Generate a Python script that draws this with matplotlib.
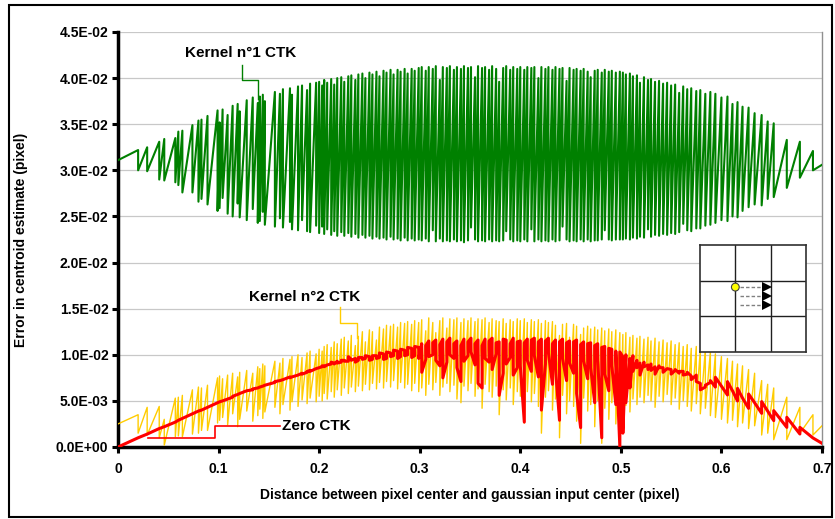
import numpy as np
import matplotlib
matplotlib.use("Agg")
import matplotlib.pyplot as plt
from matplotlib.ticker import FuncFormatter, MultipleLocator
from matplotlib.patches import Rectangle, Circle

plt.rcParams['font.family'] = ['Liberation Sans', 'DejaVu Sans']
plt.rcParams['font.weight'] = 'bold'

# ---------------- data ----------------
# distance (pixel) of each sample group; each group holds two successive samples
dist = [
    0.000,
    0.020, 0.029, 0.041, 0.046, 0.057, 0.060, 0.064, 0.074, 0.080, 0.083, 0.089, 0.099,
    0.101, 0.104, 0.109, 0.114, 0.119, 0.121, 0.128, 0.134, 0.139, 0.141, 0.144,
    0.146, 0.156, 0.161, 0.164, 0.171, 0.173, 0.179, 0.183, 0.188, 0.191, 0.197,
    0.200, 0.203, 0.205, 0.208, 0.212, 0.215, 0.218, 0.222, 0.225, 0.229,
    0.232, 0.236, 0.239, 0.243, 0.246, 0.250, 0.253, 0.257, 0.260, 0.264,
    0.267, 0.271, 0.274, 0.278, 0.281, 0.285, 0.288, 0.292, 0.295, 0.299,
    0.302, 0.306, 0.309, 0.313, 0.316, 0.320, 0.323, 0.327, 0.330, 0.334,
    0.337, 0.341, 0.344, 0.348, 0.351, 0.355, 0.358, 0.362, 0.365, 0.369,
    0.372, 0.376, 0.379, 0.383, 0.386, 0.390, 0.393, 0.397,
    0.400, 0.404, 0.407, 0.411, 0.414, 0.418, 0.421, 0.425, 0.428, 0.432,
    0.435, 0.439, 0.442, 0.446, 0.449, 0.453, 0.456, 0.460, 0.463, 0.467,
    0.470, 0.474, 0.477, 0.481, 0.484, 0.488, 0.491, 0.495, 0.499,
    0.502, 0.505, 0.509, 0.512, 0.516, 0.519, 0.523, 0.527, 0.530, 0.534, 0.538, 0.542,
    0.546, 0.550, 0.554, 0.558, 0.562, 0.566, 0.570, 0.575, 0.579, 0.584, 0.589, 0.594,
    0.600, 0.606, 0.611, 0.616, 0.621, 0.627, 0.633, 0.640, 0.646, 0.652, 0.665, 0.678, 0.691,
    0.700,
]

# Kernel n°1 CTK (units of 1E-03 pixel): first / second sample of each group
k1_high = [
    31.1,
    32.2, 32.5, 33.1, 33.4, 33.5, 34.2, 34.3, 34.9, 35.4, 35.5, 35.9, 36.5,
    35.2, 36.6, 36.0, 37.0, 37.2, 36.4, 37.6, 37.9, 37.3, 38.0, 38.2,
    37.5, 38.5, 38.3, 38.8, 38.9, 38.2, 39.1, 39.2, 38.7, 39.4, 39.5,
    39.6, 39.2, 39.8, 39.5, 39.9, 39.3, 40.0, 40.1, 39.6, 40.2,
    40.3, 39.8, 40.4, 40.5, 40.0, 40.6, 40.4, 40.7, 40.2, 40.8,
    40.6, 40.9, 40.4, 40.9, 40.7, 41.0, 40.5, 41.0, 40.8, 41.1,
    41.2, 40.8, 41.2, 41.0, 41.3, 39.8, 41.2, 41.1, 41.3, 40.9,
    41.2, 41.0, 41.3, 41.1, 41.2, 40.1, 41.3, 41.1, 41.2, 40.9,
    41.3, 41.0, 39.6, 41.1, 41.3, 40.9, 41.2, 41.0,
    41.2, 40.9, 41.2, 41.1, 41.2, 40.0, 41.2, 41.0, 41.2, 40.9,
    41.2, 41.0, 41.1, 39.7, 41.1, 40.9, 41.0, 40.8, 41.0, 40.7,
    40.1, 40.8, 40.9, 40.6, 40.9, 40.7, 40.8, 40.6, 40.7,
    40.6, 40.4, 40.5, 40.2, 40.3, 39.5, 40.1, 39.8, 39.9, 39.6, 39.7, 39.4,
    39.5, 39.2, 39.3, 38.4, 39.1, 38.8, 38.9, 38.6, 38.7, 38.3, 38.5, 38.3,
    37.9, 38.0, 37.2, 37.4, 36.9, 36.8, 36.2, 36.0, 35.3, 35.1, 33.3, 33.1, 32.1,
    30.6,
]
k1_low = [
    31.1,
    30.0, 29.9, 29.0, 28.9, 28.7, 28.4, 27.6, 27.6, 26.6, 26.9, 26.3, 25.6,
    25.9, 27.0, 25.3, 25.0, 26.4, 24.9, 24.6, 25.8, 24.3, 24.5, 25.5,
    24.1, 23.9, 24.8, 23.8, 24.4, 23.6, 23.5, 24.6, 23.4, 23.3, 24.0,
    23.2, 23.9, 23.1, 23.6, 23.0, 23.4, 22.9, 23.3, 22.9, 23.2,
    22.8, 23.1, 22.7, 23.0, 22.7, 22.9, 22.6, 22.8, 22.6, 22.7,
    22.5, 22.8, 22.5, 22.6, 22.4, 22.7, 22.4, 22.6, 22.4, 22.5,
    22.4, 22.6, 22.3, 23.5, 22.3, 22.6, 22.3, 22.4, 22.3, 22.5,
    22.3, 22.4, 22.2, 22.4, 23.8, 22.5, 22.3, 22.4, 22.3, 22.5,
    22.3, 22.4, 22.3, 22.4, 23.4, 22.5, 22.3, 22.4,
    22.3, 22.5, 22.3, 23.6, 22.3, 22.5, 22.3, 22.4, 22.3, 22.5,
    22.3, 22.4, 23.9, 22.5, 22.3, 22.4, 22.3, 22.5, 22.3, 22.5,
    22.3, 22.4, 22.4, 22.5, 23.5, 22.5, 22.4, 22.5, 22.5,
    22.5, 22.6, 22.5, 22.7, 22.6, 22.8, 22.7, 23.6, 22.8, 23.0, 22.9, 23.1,
    23.0, 23.2, 23.1, 23.3, 24.2, 23.5, 23.4, 23.7, 23.7, 24.0, 24.1, 24.3,
    24.6, 24.5, 25.0, 24.9, 25.6, 26.0, 26.3, 26.2, 26.9, 27.1, 28.1, 29.2, 30.0,
    30.6,
]

# Kernel n°2 CTK (units of 1E-03 pixel)
k2_high = [
    2.5,
    3.5, 4.3, 4.4, 3.0, 5.3, 5.4, 5.6, 6.2, 6.5, 6.4, 6.7, 7.5,
    7.7, 7.4, 7.8, 8.0, 7.6, 8.1, 8.3, 8.0, 8.7, 8.5, 9.0,
    8.8, 9.3, 9.1, 9.6, 9.5, 9.8, 10.0, 9.7, 10.2, 10.4, 10.1,
    10.6, 10.4, 10.9, 11.1, 10.8, 11.4, 11.2, 11.7, 11.9, 11.5,
    12.1, 11.0, 12.0, 12.5, 11.4, 12.7, 12.5, 11.6, 13.0, 12.8,
    13.2, 13.1, 13.3, 13.0, 13.5, 13.4, 13.6, 13.3, 13.7, 13.5,
    13.8, 12.6, 14.0, 13.5, 12.4, 13.7, 14.0, 12.9, 13.9, 13.8,
    14.0, 13.5, 13.9, 13.7, 14.0, 13.6, 13.9, 13.8, 14.0, 13.5,
    13.9, 13.7, 13.6, 13.9, 13.4, 13.8, 13.6, 13.9,
    13.7, 13.9, 13.5, 13.8, 13.6, 13.8, 13.4, 13.7, 13.5, 13.6,
    13.2, 12.1, 13.3, 13.4, 11.9, 13.3, 13.1, 12.2, 12.9, 13.1,
    12.8, 13.0, 12.7, 12.9, 12.6, 12.8, 12.5, 12.7, 12.4,
    12.2, 12.4, 11.9, 12.1, 11.8, 12.0, 11.7, 11.9, 11.5, 11.8, 11.4, 11.6,
    11.3, 11.5, 11.1, 11.3, 10.9, 11.1, 10.7, 10.9, 10.5, 10.6, 10.3, 10.1,
    9.8, 9.6, 9.3, 9.0, 8.8, 8.4, 8.0, 7.2, 6.8, 6.4, 5.4, 4.3, 3.5,
    2.3,
]
k2_low = [
    2.5,
    1.5, 1.3, 1.0, 0.2, 1.1, 1.2, 1.1, 1.4, 1.5, 1.8, 1.8, 2.6,
    2.9, 3.2, 2.4, 3.6, 2.2, 3.0, 3.9, 2.8, 3.4, 4.1, 3.1,
    3.8, 4.3, 3.6, 4.6, 4.0, 4.9, 4.4, 5.1, 4.7, 5.3, 4.9,
    5.5, 5.0, 5.8, 5.2, 6.0, 5.4, 6.2, 5.6, 6.4, 5.8,
    6.5, 6.0, 6.6, 6.1, 6.8, 6.2, 6.9, 6.3, 7.0, 6.4,
    7.1, 6.5, 7.2, 6.3, 7.0, 6.4, 6.8, 6.1, 6.9, 6.0,
    6.4, 5.6, 6.8, 6.2, 7.0, 5.6, 6.5, 6.9, 6.0, 6.7,
    5.2, 4.8, 6.6, 6.1, 6.9, 5.5, 6.3, 4.2, 6.8, 6.0,
    5.4, 6.6, 3.5, 6.2, 5.1, 6.4, 4.6, 6.0,
    5.5, 2.6, 6.0, 4.9, 5.8, 4.4, 1.5, 5.4, 6.1, 4.0,
    5.2, 1.0, 5.6, 3.6, 5.0, 4.4, 2.8, 0.4, 5.3, 3.9,
    4.6, 2.2, 5.0, 0.4, 4.2, 3.0, 4.8, 2.5, 0.0,
    1.5, 4.5, 3.8, 5.2, 4.6, 5.4, 4.8, 5.6, 5.0, 4.3, 5.5, 4.9,
    5.7, 4.6, 5.3, 4.1, 5.0, 4.4, 3.9, 4.7, 3.6, 4.2, 3.4, 3.2,
    3.0, 2.6, 2.9, 2.2, 2.6, 2.0, 2.3, 1.3, 1.5, 0.8, 0.8, 1.5, 1.3,
    2.3,
]

# Zero CTK (units of 1E-03 pixel)
zero_a = [
    0.0,
    1.0, 1.4, 2.0, 2.2, 2.7, 2.9, 3.1, 3.6, 3.9, 4.0, 4.3, 4.8,
    4.9, 5.0, 5.2, 5.4, 5.7, 5.8, 6.1, 6.2, 6.4, 6.5, 6.6,
    6.7, 7.0, 7.2, 7.3, 7.6, 7.6, 7.8, 8.0, 8.1, 8.3, 8.5,
    8.6, 8.7, 8.8, 8.9, 9.0, 9.1, 9.3, 9.2, 9.4, 9.3,
    9.5, 9.6, 9.4, 9.7, 9.6, 9.8, 9.5, 9.9, 9.7, 10.1,
    9.6, 10.2, 9.9, 10.4, 9.8, 10.5, 10.0, 10.7, 9.9, 10.8,
    11.2, 9.5, 11.5, 10.0, 11.6, 8.8, 11.7, 9.2, 11.8, 9.6,
    11.5, 7.1, 11.7, 9.9, 11.8, 8.9, 11.6, 6.4, 11.7, 9.2,
    11.8, 10.1, 11.4, 8.0, 11.6, 9.7, 11.8, 8.6,
    11.5, 2.7, 11.7, 8.2, 11.8, 7.6, 11.7, 9.0, 11.8, 6.8,
    11.6, 2.9, 11.7, 7.2, 11.5, 8.0, 11.6, 2.1, 11.4, 7.4,
    11.3, 4.8, 11.2, 1.0, 10.9, 6.1, 10.6, 4.6, 0.0,
    9.8, 10.0, 9.6, 9.9, 9.4, 9.1, 9.2, 8.9, 9.0, 8.7, 8.8, 8.6,
    8.5, 8.4, 8.3, 8.0, 8.2, 7.9, 7.7, 7.8, 6.9, 6.5, 7.0, 6.5,
    6.6, 5.64, 6.1, 4.99, 5.3, 4.19, 4.8, 3.65, 3.9, 2.86, 2.13, 1.41, 0.98,
    0.4,
]
zero_b = [
    0.0,
    1.0, 1.4, 2.0, 2.2, 2.7, 2.9, 3.1, 3.6, 3.9, 4.0, 4.3, 4.8,
    4.9, 5.0, 5.2, 5.5, 5.7, 5.8, 6.1, 6.3, 6.4, 6.5, 6.6,
    6.7, 7.1, 7.2, 7.3, 7.5, 7.6, 7.8, 7.9, 8.2, 8.2, 8.5,
    8.6, 8.8, 8.7, 8.9, 9.2, 9.0, 9.1, 9.4, 9.3, 9.8,
    9.4, 9.2, 9.7, 9.5, 9.9, 9.4, 9.9, 9.6, 10.2, 9.5,
    10.3, 9.8, 10.5, 9.6, 10.6, 9.9, 10.8, 9.7, 10.9, 9.6,
    8.1, 11.0, 9.8, 11.3, 9.4, 11.1, 7.5, 11.4, 10.0, 11.2,
    8.6, 11.0, 9.3, 11.4, 10.3, 11.2, 6.9, 11.0, 9.6, 11.5,
    8.4, 11.3, 5.6, 11.7, 9.0, 11.2, 7.8, 11.4,
    8.8, 11.3, 9.4, 11.6, 9.9, 11.4, 4.0, 11.5, 10.2, 11.2,
    8.5, 11.4, 9.6, 11.3, 9.1, 11.4, 5.8, 11.1, 9.3, 11.2,
    8.6, 11.0, 9.4, 10.8, 7.9, 10.7, 8.8, 10.4, 10.3,
    1.5, 4.8, 6.4, 8.2, 8.6, 7.8, 8.7, 8.4, 8.3, 7.9, 8.6, 8.1,
    8.5, 7.9, 8.4, 8.2, 7.8, 8.1, 7.3, 7.1, 6.2, 6.7, 7.2, 7.56,
    6.6, 7.09, 6.1, 6.36, 5.3, 5.75, 4.8, 4.92, 3.9, 3.94, 3.22, 2.13, 0.98,
    0.4,
]

UNIT = 1e-3
x_ticks = [0, 0.1, 0.2, 0.3, 0.4, 0.5, 0.6, 0.7]
series_names = ['Kernel n°1 CTK', 'Kernel n°2 CTK', 'Zero CTK']

n = min(len(dist), len(k1_high), len(k1_low), len(k2_high), len(k2_low),
        len(zero_a), len(zero_b))


def interleave(a, b):
    return np.column_stack([np.asarray(a[:n]), np.asarray(b[:n])]).ravel()


xs = np.repeat(np.asarray(dist[:n]), 2)
g = interleave(k1_high, k1_low) * UNIT
yel = interleave(k2_high, k2_low) * UNIT
red = interleave(zero_a, zero_b) * UNIT

# ---------------- figure ----------------
W, H = 835, 519
fig = plt.figure(figsize=(W / 100, H / 100), dpi=100)
fig.patch.set_facecolor('white')
fig.patches.append(Rectangle((9 / W, 2 / H), (832 - 9) / W, (514 - 2) / H,
                             transform=fig.transFigure, fill=False,
                             lw=1.5, ec='black', zorder=0))

L, R, T, B = 118, 822, 32, 447
ax = fig.add_axes([L / W, 1 - B / H, (R - L) / W, (B - T) / H])

GREEN = '#008000'
YELLOW = '#FFCC00'
RED = '#FF0000'

ax.plot(xs, yel, color=YELLOW, lw=1.0, zorder=3)
ax.plot(xs, red, color=RED, lw=2.2, zorder=4)
ax.plot(xs, g, color=GREEN, lw=1.5, zorder=3)

ax.set_xlim(0, 0.7)
ax.set_ylim(0, 0.045)
ax.set_xticks(x_ticks)
ax.xaxis.set_major_formatter(FuncFormatter(lambda v, p: '0' if abs(v) < 1e-9 else f'{v:.1f}'))
ax.yaxis.set_major_locator(MultipleLocator(0.005))
ax.yaxis.set_major_formatter(FuncFormatter(lambda v, p: f'{v:.1E}'))

ax.yaxis.grid(True, color='#c8c8c8', lw=0.9)
ax.set_axisbelow(True)

ax.spines['top'].set_visible(False)
ax.spines['right'].set_color('#909090')
ax.spines['right'].set_linewidth(1.0)
ax.spines['left'].set_linewidth(2.5)
ax.spines['bottom'].set_linewidth(2.5)

ax.tick_params(axis='y', direction='out', length=4, width=2.2, pad=3, labelsize=10)
ax.tick_params(axis='x', direction='out', length=4, width=2.2, pad=7, labelsize=10)
for lab in ax.get_xticklabels() + ax.get_yticklabels():
    lab.set_fontweight('bold')

ax.set_xlabel('Distance between pixel center and gaussian input center (pixel)',
              fontsize=10, fontweight='bold')
ax.xaxis.set_label_coords(0.5, (B - 488) / (B - T))
ax.set_ylabel('Error in centroid estimate (pixel)', fontsize=10, fontweight='bold')
ax.yaxis.set_label_coords((28 - L) / (R - L), 0.5)

# series labels with connectors
ax.text(0.1223, 0.0427, series_names[0], fontsize=11, fontweight='bold',
        ha='center', va='center', color='black')
ax.plot([0.1233, 0.1233, 0.1392, 0.1392], [0.04143, 0.0398, 0.0398, 0.03774],
        color=GREEN, lw=1.0, zorder=5)

ax.text(0.186, 0.01627, series_names[1], fontsize=11, fontweight='bold',
        ha='center', va='center', color='black')
ax.plot([0.2207, 0.2207, 0.2376, 0.2376], [0.01518, 0.01345, 0.01345, 0.01182],
        color=YELLOW, lw=1.0, zorder=5)

ax.text(0.1635, 0.00228, series_names[2], fontsize=11, fontweight='bold',
        ha='left', va='center', color='black')
ax.plot([0.0298, 0.0964, 0.0964, 0.161], [0.00098, 0.00098, 0.00228, 0.00228],
        color=RED, lw=1.2, zorder=5)

# inset diagram: pixel grid with gaussian centre moved along x
ins = fig.add_axes([700 / W, 1 - 352 / H, 106 / W, 107 / H])
ins.set_xlim(0, 3)
ins.set_ylim(0, 3)
ins.set_facecolor('white')
for s in ins.spines.values():
    s.set_color('#303030')
    s.set_linewidth(1.2)
ins.set_xticks([])
ins.set_yticks([])
grid_pos = [1, 2]
for gp in grid_pos:
    ins.axvline(gp, color='#202020', lw=1.0)
    ins.axhline(gp, color='#202020', lw=1.0)
arrow_rows = [1.82, 1.56, 1.31]
arrow_start = [1.12, 1.12, 1.12]
arrow_end = 1.80
for yv, xs0 in zip(arrow_rows, arrow_start):
    ins.plot([xs0, arrow_end], [yv, yv], ls=(0, (2.5, 1.5)), color='#808080', lw=1.0)
    ins.plot(arrow_end + 0.1, yv, marker='>', color='black', ms=7, mew=0)
ins.add_patch(Circle((1.0, 1.82), 0.11, fc='#FFFF00', ec='#404040', lw=0.8, zorder=5))

fig.savefig('out.png', dpi=100)
